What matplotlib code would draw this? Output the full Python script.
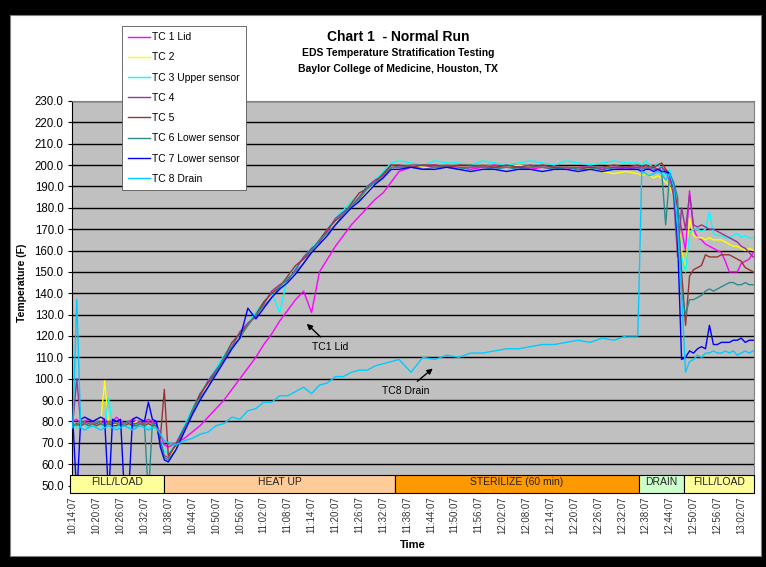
import matplotlib
matplotlib.use("Agg")
import matplotlib.pyplot as plt
from matplotlib.patches import Rectangle
from matplotlib.ticker import FormatStrFormatter

plt.rcParams['font.family'] = ['Liberation Sans', 'DejaVu Sans']

# minutes after 10:14:07
minutes = [0, 1, 2, 3, 4, 5, 6, 7, 8, 9, 10, 11, 12, 13, 14, 15, 16, 17, 18, 19, 20, 21, 22, 23,
           24, 26, 28, 30, 32, 34, 36, 38, 40, 42, 44, 46, 48, 50, 52, 54, 56, 58, 60, 62, 64,
           66, 68, 70, 72, 74, 76, 78, 80,
           82, 85, 88, 91, 94, 97, 100, 103, 106, 109, 112, 115, 118, 121, 124, 127, 130, 133, 136, 139,
           142, 143, 144, 145, 146, 147, 148, 149, 150, 151, 152, 153, 154, 155, 156, 157, 158, 159,
           160, 161, 162, 163, 164, 165, 166, 167, 168, 169, 170, 171]

tc1 = [80, 81, 79, 80, 81, 80, 79, 80, 81, 80, 80, 82, 80, 79, 80, 81, 80, 79, 80, 81, 80, 79, 74, 69,
       68, 70, 72, 75, 78, 82, 86, 90, 95, 100, 105, 110, 116, 121, 127, 132, 137, 141, 131, 150, 156,
       162, 167, 172, 176, 180, 184, 187, 192,
       197, 199, 199, 200, 199, 199, 198, 199, 200, 199, 199, 198, 199, 199, 198, 199, 199, 198, 199, 198,
       199, 198, 199, 198, 199, 198, 198, 196, 193, 190, 180, 170, 160, 188, 170, 166, 165, 163,
       162, 161, 160, 159, 155, 150, 150, 150, 154, 155, 156, 159]
tc2 = [79, 78, 80, 79, 78, 79, 80, 79, 99, 79, 78, 79, 80, 79, 78, 79, 80, 79, 78, 79, 79, 78, 70, 64,
       63, 68, 76, 85, 91, 96, 103, 110, 115, 119, 125, 130, 134, 138, 143, 147, 150, 154, 160, 165, 168,
       172, 177, 182, 184, 187, 192, 196, 199,
       199, 200, 199, 199, 200, 199, 199, 200, 199, 199, 200, 199, 199, 198, 199, 199, 198, 197, 196, 197,
       196, 195, 196, 195, 194, 195, 194, 192, 190, 185, 180, 160, 150, 175, 167, 166, 166, 165,
       166, 165, 165, 165, 164, 163, 162, 162, 161, 160, 161, 160]
tc3 = [78, 77, 79, 78, 77, 78, 79, 78, 77, 91, 78, 77, 78, 79, 78, 77, 78, 79, 78, 77, 78, 78, 72, 66,
       65, 70, 78, 86, 93, 99, 105, 111, 116, 121, 126, 131, 136, 140, 131, 148, 152, 157, 161, 165, 170,
       175, 179, 183, 186, 190, 193, 197, 201,
       202, 201, 200, 202, 201, 201, 200, 202, 201, 200, 201, 202, 201, 200, 202, 201, 200, 201, 202, 201,
       201, 200, 202, 200, 199, 201, 198, 195, 198, 190, 175, 157, 150, 168, 170, 170, 169, 170,
       178, 168, 167, 167, 166, 166, 167, 168, 166, 167, 166, 166]
tc4 = [79, 100, 79, 80, 79, 80, 79, 80, 79, 80, 79, 79, 80, 79, 80, 79, 79, 80, 79, 80, 79, 79, 71, 64,
       63, 70, 77, 84, 92, 99, 104, 109, 115, 122, 126, 129, 135, 141, 144, 146, 151, 157, 161, 164, 169,
       175, 178, 181, 185, 190, 193, 195, 200,
       199, 200, 200, 199, 200, 199, 199, 200, 199, 199, 199, 200, 199, 198, 199, 199, 199, 198, 199, 199,
       199, 199, 200, 199, 199, 198, 199, 197, 195, 185, 157, 180, 170, 186, 172, 171, 172, 171,
       170, 170, 169, 168, 167, 166, 165, 164, 162, 161, 159, 157]
tc5 = [78, 79, 78, 79, 78, 79, 78, 79, 78, 79, 78, 78, 79, 78, 79, 78, 78, 79, 78, 79, 78, 78, 72, 95,
       64, 69, 76, 85, 93, 98, 103, 110, 117, 121, 125, 130, 136, 140, 143, 148, 153, 156, 160, 165, 170,
       174, 177, 182, 187, 189, 192, 196, 200,
       200, 199, 200, 200, 199, 200, 200, 199, 199, 200, 199, 199, 200, 199, 199, 198, 199, 199, 200, 199,
       200, 199, 200, 199, 199, 200, 201, 198, 196, 190, 180, 150, 125, 148, 151, 152, 153, 158,
       157, 157, 157, 158, 158, 158, 157, 156, 155, 152, 151, 150]
tc6 = [79, 78, 80, 79, 78, 79, 80, 79, 78, 79, 80, 79, 78, 79, 80, 79, 78, 79, 79, 45, 79, 78, 70, 63,
       62, 67, 76, 85, 91, 96, 103, 110, 115, 119, 125, 130, 134, 138, 143, 147, 150, 154, 160, 165, 168,
       172, 177, 181, 184, 189, 192, 194, 199,
       199, 199, 198, 199, 199, 198, 199, 199, 198, 199, 198, 199, 199, 198, 199, 198, 198, 199, 198, 198,
       198, 199, 198, 199, 198, 198, 197, 172, 196, 192, 185, 140, 130, 137, 137, 138, 139, 141,
       142, 141, 142, 143, 144, 145, 145, 144, 144, 145, 144, 144]
tc7 = [81, 45, 81, 82, 81, 80, 81, 82, 81, 45, 81, 80, 81, 45, 45, 81, 82, 81, 80, 89, 81, 80, 68, 62,
       61, 67, 75, 83, 90, 96, 102, 108, 114, 119, 133, 128, 133, 138, 142, 145, 149, 154, 159, 163, 167,
       172, 176, 180, 183, 187, 191, 194, 198,
       198, 199, 198, 198, 199, 198, 197, 198, 198, 197, 198, 198, 197, 198, 198, 197, 198, 197, 198, 198,
       198, 197, 198, 198, 197, 198, 197, 197, 196, 190, 165, 109, 110, 113, 112, 114, 115, 114,
       125, 116, 116, 117, 117, 117, 118, 118, 119, 117, 118, 118]
tc8 = [77, 137, 77, 76, 77, 78, 77, 76, 77, 78, 77, 76, 77, 78, 77, 76, 77, 78, 77, 76, 77, 77, 74, 71,
       70, 69, 71, 72, 74, 75, 78, 79, 82, 81, 85, 86, 89, 89, 92, 92, 94, 96, 93, 97, 98,
       101, 101, 103, 104, 104, 106, 107, 108,
       109, 103, 110, 109, 111, 110, 112, 112, 113, 114, 114, 115, 116, 116, 117, 118, 117, 119, 118, 120,
       120, 197, 196, 195, 196, 197, 196, 193, 196, 190, 170, 140, 103, 108, 109, 111, 110, 112,
       112, 113, 112, 112, 113, 112, 113, 111, 112, 113, 112, 113]

series = [tc1, tc2, tc3, tc4, tc5, tc6, tc7, tc8]
series_names = ["TC 1 Lid", "TC 2", "TC 3 Upper sensor", "TC 4", "TC 5",
                "TC 6 Lower sensor", "TC 7 Lower sensor", "TC 8 Drain"]
series_colors = ["#FF00FF", "#FFFF00", "#00FFFF", "#993399", "#993333",
                 "#2E8B8B", "#0000FF", "#00CCFF"]

tick_labels = ["10:14:07", "10:20:07", "10:26:07", "10:32:07", "10:38:07", "10:44:07",
               "10:50:07", "10:56:07", "11:02:07", "11:08:07", "11:14:07", "11:20:07",
               "11:26:07", "11:32:07", "11:38:07", "11:44:07", "11:50:07", "11:56:07",
               "12:02:07", "12:08:07", "12:14:07", "12:20:07", "12:26:07", "12:32:07",
               "12:38:07", "12:44:07", "12:50:07", "12:56:07", "13:02:07"]
tick_minutes = [6 * i for i in range(len(tick_labels))]

phase_names = ["FILL/LOAD", "HEAT UP", "STERILIZE (60 min)", "DRAIN", "FILL/LOAD"]
phase_start = [-0.7, 23, 81, 142.3, 153.5]
phase_end = [23, 81, 142.3, 153.5, 171.2]
phase_colors = ["#FFFF99", "#FFCC99", "#FF9900", "#CCFFCC", "#FFFF99"]

W, H = 766, 567
fig = plt.figure(figsize=(W / 100, H / 100), dpi=100, facecolor="black")
fig.patches.append(Rectangle((10 / W, 11 / H), 751 / W, 541 / H, transform=fig.transFigure,
                             facecolor="white", edgecolor="#808080", lw=0.8, zorder=-10))

ax = fig.add_axes([72 / W, (H - 485.5) / H, (754 - 72) / W, (485.5 - 101) / H])
ax.set_facecolor("#C0C0C0")

lines = []
for vals, name, col in zip(series, series_names, series_colors):
    ln, = ax.plot(minutes, vals, color=col, lw=1.0, label=name, zorder=3)
    lines.append(ln)

ax.set_xlim(-0.2, 171.2)
ax.set_ylim(50, 230)
ax.set_yticks(range(50, 231, 10))
ax.yaxis.set_major_formatter(FormatStrFormatter('%.1f'))
ax.yaxis.grid(True, color="black", lw=1.0)
ax.set_axisbelow(True)
ax.tick_params(axis='y', length=3, width=0.8, labelsize=8.3, pad=3)
ax.set_xticks(tick_minutes)
ax.set_xticklabels(tick_labels, rotation=90, fontsize=7, color="#333333")
ax.tick_params(axis='x', length=0, pad=8)
for side in ["top", "right", "bottom"]:
    ax.spines[side].set_color("#808080")
ax.spines["left"].set_color("black")

# phase bands under the plot area
for name, s, e, c in zip(phase_names, phase_start, phase_end, phase_colors):
    ax.add_patch(Rectangle((s, -0.0195), e - s, 0.047, transform=ax.get_xaxis_transform(),
                           facecolor=c, edgecolor="black", lw=0.8, clip_on=False, zorder=5))
    ax.text((s + e) / 2, 0.008, name, transform=ax.get_xaxis_transform(), ha="center",
            va="center", fontsize=7.5, color="#222222", zorder=6)

ax.annotate("TC1 Lid", xy=(58.3, 126.6), xytext=(64.8, 115), ha="center", va="center",
            fontsize=7.5, arrowprops=dict(arrowstyle="-|>", color="black", lw=1, mutation_scale=8))
ax.annotate("TC8 Drain", xy=(91, 105.6), xytext=(83.7, 94.3), ha="center", va="center",
            fontsize=7.5, arrowprops=dict(arrowstyle="-|>", color="black", lw=1, mutation_scale=8))

fig.text(398 / W, 1 - 37 / H, "Chart 1  - Normal Run", ha="center", va="center",
         fontsize=10, fontweight="bold")
fig.text(398 / W, 1 - 53 / H, "EDS Temperature Stratification Testing", ha="center",
         va="center", fontsize=7.5, fontweight="bold")
fig.text(398 / W, 1 - 69 / H, "Baylor College of Medicine, Houston, TX", ha="center",
         va="center", fontsize=7.5, fontweight="bold")
fig.text(22 / W, 1 - 283 / H, "Temperature (F)", rotation=90, ha="center", va="center",
         fontsize=7.5, fontweight="bold")
fig.text(413 / W, 1 - 545 / H, "Time", ha="center", va="center", fontsize=8, fontweight="bold")

leg = fig.legend(lines, series_names, loc="upper left", bbox_to_anchor=(122 / W, 1 - 26 / H),
                 fontsize=7.5, frameon=True, fancybox=False, edgecolor="#555555",
                 framealpha=1, handlelength=2.1, handletextpad=0.2, labelspacing=0.98,
                 borderpad=0.6, borderaxespad=0)
leg.get_frame().set_linewidth(0.6)
leg.set_zorder(10)

fig.savefig("out.png", dpi=100, facecolor="black")
